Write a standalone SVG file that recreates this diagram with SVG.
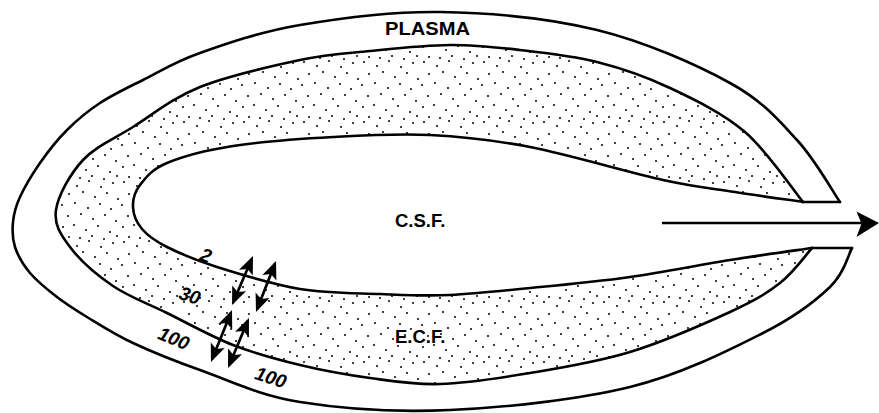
<svg xmlns="http://www.w3.org/2000/svg" width="879" height="413" viewBox="0 0 879 413">
<defs>
<style>
.ln{fill:none;stroke:#000;stroke-width:2.6;stroke-linejoin:round;stroke-linecap:round}
.lbl{font-family:"Liberation Sans",Arial,sans-serif;font-weight:bold;font-size:18.5px;fill:#000}
.num{font-family:"Liberation Sans",Arial,sans-serif;font-style:italic;font-weight:bold;font-size:19px;fill:#000;text-anchor:middle}
.dbl{fill:none;stroke:#000;stroke-width:2.7;marker-start:url(#ah);marker-end:url(#ah)}
</style>
<pattern id="stip" width="60" height="60" patternUnits="userSpaceOnUse">
<g fill="#000">
<circle cx="4" cy="2" r="1"/><circle cx="17" cy="6" r="1"/><circle cx="29" cy="1" r="1"/><circle cx="41" cy="7" r="1"/><circle cx="53" cy="3" r="1"/>
<circle cx="9" cy="14" r="1"/><circle cx="23" cy="12" r="1"/><circle cx="35" cy="17" r="1"/><circle cx="47" cy="13" r="1"/><circle cx="58" cy="19" r="1"/>
<circle cx="2" cy="25" r="1"/><circle cx="15" cy="23" r="1"/><circle cx="28" cy="28" r="1"/><circle cx="40" cy="24" r="1"/><circle cx="51" cy="29" r="1"/>
<circle cx="8" cy="36" r="1"/><circle cx="21" cy="34" r="1"/><circle cx="33" cy="39" r="1"/><circle cx="45" cy="35" r="1"/><circle cx="56" cy="41" r="1"/>
<circle cx="3" cy="47" r="1"/><circle cx="14" cy="45" r="1"/><circle cx="26" cy="50" r="1"/><circle cx="38" cy="46" r="1"/><circle cx="50" cy="52" r="1"/>
<circle cx="9" cy="57" r="1"/><circle cx="20" cy="58" r="1"/><circle cx="32" cy="56" r="1"/><circle cx="44" cy="59" r="1"/><circle cx="57" cy="56" r="1"/>
</g>
</pattern>
<marker id="ah" viewBox="0 -8 19 16" markerWidth="19" markerHeight="16" refX="15" refY="0" markerUnits="userSpaceOnUse" orient="auto-start-reverse" overflow="visible">
<path d="M0,-7.5 L18,0 L0,7.5 L4,0 Z" fill="#000"/>
</marker>
</defs>
<rect width="879" height="413" fill="#fff"/>

<g id="plasma">
<path class="ln" d="M840,202 C832.8,191.7 815.3,159.8 797,140 C778.7,120.2 763.3,101.3 730,83 C696.7,64.7 645.3,41.8 597,30 C548.7,18.2 489.5,12.8 440,12 C390.5,11.2 340,18.2 300,25 C260,31.8 226.2,43.8 200,53 C173.8,62.2 159.7,71.7 143,80 C126.3,88.3 112.7,94.7 100,103 C87.3,111.3 77,120 67,130 C57,140 47.8,151.8 40,163 C32.2,174.2 24.5,187.2 20,197 C15.5,206.8 13.8,213.7 13,222 C12.2,230.3 12.2,238.5 15,247 C17.8,255.5 23,264.7 30,273 C37,281.3 47.5,289.7 57,297 C66.5,304.3 74.3,309.3 87,317 C99.7,324.7 114.2,334.2 133,343 C151.8,351.8 172.2,360.2 200,370 C227.8,379.8 258.3,395.3 300,402 C341.7,408.7 395,412.5 450,410 C505,407.5 577.8,399.8 630,387 C682.2,374.2 729.7,349.7 763,333 C796.3,316.3 815.2,301.2 830,287 C844.8,272.8 848.3,254.5 852,248"/>
<path class="ln" d="M803,202 L840,202 M812,248 L852,248"/>
<text class="lbl" x="385" y="35" textLength="85" lengthAdjust="spacingAndGlyphs">PLASMA</text>
</g>

<g id="ecf">
<path fill="url(#stip)" fill-rule="evenodd" d="M803,202 C793.3,190.3 767.2,151 745,132 C722.8,113 694.7,99.7 670,88 C645.3,76.3 622,68.3 597,62 C572,55.7 544.5,52.8 520,50 C495.5,47.2 475,44.8 450,45 C425,45.2 395,48.5 370,51 C345,53.5 328.3,54 300,60 C271.7,66 227.8,75.8 200,87 C172.2,98.2 152.5,114.8 133,127 C113.5,139.2 95.8,146.2 83,160 C70.2,173.8 58.2,195.5 56,210 C53.8,224.5 60.5,234.3 70,247 C79.5,259.7 96.8,275 113,286 C129.2,297 147,303.2 167,313 C187,322.8 210.8,336.3 233,345 C255.2,353.7 277.2,359.5 300,365 C322.8,370.5 346.7,374.8 370,378 C393.3,381.2 413.3,384.8 440,384 C466.7,383.2 498.3,378.3 530,373 C561.7,367.7 596.7,362.2 630,352 C663.3,341.8 705,323.5 730,312 C755,300.5 766.3,293.7 780,283 C793.7,272.3 806.7,253.8 812,248 Z M803,202 C791.7,200.3 758.3,195.7 735,192 C711.7,188.3 697.2,187.5 663,180 C628.8,172.5 568.8,154.5 530,147 C491.2,139.5 462.8,136.7 430,135 C397.2,133.3 365.8,135.2 333,137 C300.2,138.8 260.7,141.7 233,146 C205.3,150.3 182.5,156.5 167,163 C151.5,169.5 145.7,177.7 140,185 C134.3,192.3 132.7,199.7 133,207 C133.3,214.3 136.3,222.3 142,229 C147.7,235.7 154.5,240.7 167,247 C179.5,253.3 194.8,260 217,267 C239.2,274 272.8,284.5 300,289 C327.2,293.5 355,293 380,294 C405,295 423.3,296.2 450,295 C476.7,293.8 510,290 540,287 C570,284.2 598.3,281.5 630,277 C661.7,272.5 699.7,264.8 730,260 C760.3,255.2 798.3,250 812,248 Z"/>
<path class="ln" d="M803,202 C793.3,190.3 767.2,151 745,132 C722.8,113 694.7,99.7 670,88 C645.3,76.3 622,68.3 597,62 C572,55.7 544.5,52.8 520,50 C495.5,47.2 475,44.8 450,45 C425,45.2 395,48.5 370,51 C345,53.5 328.3,54 300,60 C271.7,66 227.8,75.8 200,87 C172.2,98.2 152.5,114.8 133,127 C113.5,139.2 95.8,146.2 83,160 C70.2,173.8 58.2,195.5 56,210 C53.8,224.5 60.5,234.3 70,247 C79.5,259.7 96.8,275 113,286 C129.2,297 147,303.2 167,313 C187,322.8 210.8,336.3 233,345 C255.2,353.7 277.2,359.5 300,365 C322.8,370.5 346.7,374.8 370,378 C393.3,381.2 413.3,384.8 440,384 C466.7,383.2 498.3,378.3 530,373 C561.7,367.7 596.7,362.2 630,352 C663.3,341.8 705,323.5 730,312 C755,300.5 766.3,293.7 780,283 C793.7,272.3 806.7,253.8 812,248"/>
<text class="lbl" x="395" y="343">E.C.F.</text>
</g>

<g id="csf">
<path class="ln" d="M803,202 C791.7,200.3 758.3,195.7 735,192 C711.7,188.3 697.2,187.5 663,180 C628.8,172.5 568.8,154.5 530,147 C491.2,139.5 462.8,136.7 430,135 C397.2,133.3 365.8,135.2 333,137 C300.2,138.8 260.7,141.7 233,146 C205.3,150.3 182.5,156.5 167,163 C151.5,169.5 145.7,177.7 140,185 C134.3,192.3 132.7,199.7 133,207 C133.3,214.3 136.3,222.3 142,229 C147.7,235.7 154.5,240.7 167,247 C179.5,253.3 194.8,260 217,267 C239.2,274 272.8,284.5 300,289 C327.2,293.5 355,293 380,294 C405,295 423.3,296.2 450,295 C476.7,293.8 510,290 540,287 C570,284.2 598.3,281.5 630,277 C661.7,272.5 699.7,264.8 730,260 C760.3,255.2 798.3,250 812,248"/>
<text class="lbl" x="395" y="227">C.S.F.</text>
</g>

<g id="connectors">
<line x1="662" y1="223" x2="862" y2="223" stroke="#000" stroke-width="2.6"/>
<path d="M879,223 L856.5,211.5 L861.5,223.5 L856.5,237 Z" fill="#000"/>
<line class="dbl" x1="251.8" y1="258.8" x2="233.2" y2="302.2"/>
<line class="dbl" x1="274.9" y1="263.8" x2="257.1" y2="309.2"/>
<line class="dbl" x1="230.9" y1="312.8" x2="212.1" y2="359.2"/>
<line class="dbl" x1="247.8" y1="320.8" x2="229.2" y2="365.2"/>
</g>

<g id="labels">
<text class="num" transform="translate(206,255) rotate(20)" y="7">2</text>
<text class="num" transform="translate(190,295) rotate(18)" y="7">30</text>
<text class="num" transform="translate(174,338) rotate(22)" y="7">100</text>
<text class="num" transform="translate(271,377) rotate(18)" y="7">100</text>
</g>
</svg>
